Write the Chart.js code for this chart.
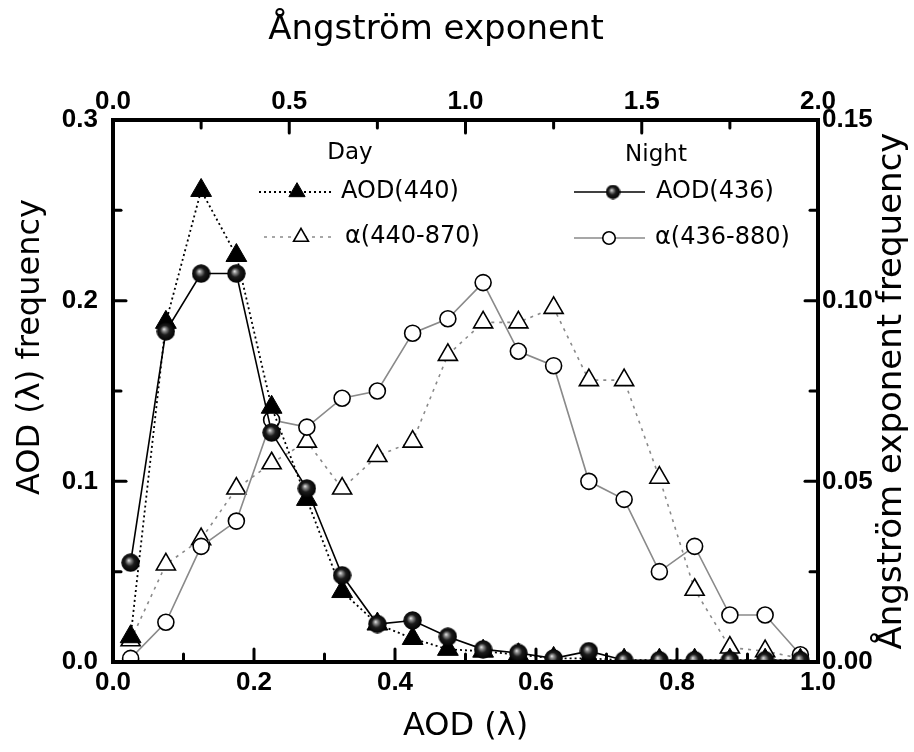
<!DOCTYPE html>
<html>
<head>
<meta charset="utf-8">
<script src="https://cdn.jsdelivr.net/npm/chart.js@4.4.1/dist/chart.umd.min.js"></script>
<style>
  html, body { margin: 0; padding: 0; background: #fff; }
</style>
</head>
<body>
<canvas id="chart" width="914" height="752"></canvas>
<script>
// bin centres (AOD on the bottom axis, Angstrom exponent on the top axis)
const aodBins = [0.025, 0.075, 0.125, 0.175, 0.225, 0.275, 0.325, 0.375, 0.425, 0.475,
                 0.525, 0.575, 0.625, 0.675, 0.725, 0.775, 0.825, 0.875, 0.925, 0.975]
const alphaBins = [0.05, 0.15, 0.25, 0.35, 0.45, 0.55, 0.65, 0.75, 0.85, 0.95,
                   1.05, 1.15, 1.25, 1.35, 1.45, 1.55, 1.65, 1.75, 1.85, 1.95]

// frequencies
const aodDay440 = [0.014, 0.188, 0.261, 0.225, 0.141, 0.090, 0.039, 0.021, 0.013, 0.007,
                   0.006, 0.004, 0.002, 0.002, 0.001, 0.001, 0.001, 0.001, 0.001, 0.001]
const aodNight436 = [0.055, 0.183, 0.215, 0.215, 0.127, 0.096, 0.048, 0.021, 0.023, 0.014,
                     0.007, 0.005, 0.002, 0.006, 0.001, 0.001, 0.001, 0.001, 0.001, 0.001]
const alphaDay = [0.006, 0.027, 0.034, 0.048, 0.055, 0.061, 0.048, 0.057, 0.061, 0.085,
                  0.094, 0.094, 0.098, 0.078, 0.078, 0.051, 0.020, 0.004, 0.003, 0.001]
const alphaNight = [0.001, 0.011, 0.032, 0.039, 0.067, 0.065, 0.073, 0.075, 0.091, 0.095,
                    0.105, 0.086, 0.082, 0.050, 0.045, 0.025, 0.032, 0.013, 0.013, 0.002]

const seriesLabels = ['AOD(440)', 'α(440-870)', 'AOD(436)', 'α(436-880)']

const tickFont = { family: 'Liberation Sans', size: 26, weight: 'bold' }
const titleFamily = 'DejaVu Sans'

function toPoints(xs, ys) {
  return xs.map((x, i) => ({ x: x, y: ys[i] }))
}

function isMultiple(v, step) {
  const r = v / step
  return Math.abs(r - Math.round(r)) < 1e-6
}

function makeSphere(d) {
  const c = document.createElement('canvas')
  c.width = d
  c.height = d
  const g = c.getContext('2d')
  const r = d / 2
  const grad = g.createRadialGradient(r * 0.8, r * 0.75, 0, r, r, r)
  grad.addColorStop(0, '#eeeeee')
  grad.addColorStop(0.2, '#8c8c8c')
  grad.addColorStop(0.5, '#1c1c1c')
  grad.addColorStop(1, '#000')
  g.fillStyle = grad
  g.beginPath()
  g.arc(r, r, r - 0.3, 0, Math.PI * 2)
  g.fill()
  return c
}

const sphere = makeSphere(19)
const sphereSmall = makeSphere(15)

// inward ticks + thick frame
const axisFrame = {
  id: 'axisFrame',
  afterDatasetsDraw(chart) {
    const { ctx, chartArea: a, scales } = chart
    ctx.save()
    ctx.strokeStyle = '#000'
    ctx.lineWidth = 3
    ctx.lineCap = 'round'
    const seg = (x1, y1, x2, y2) => {
      ctx.beginPath()
      ctx.moveTo(x1, y1)
      ctx.lineTo(x2, y2)
      ctx.stroke()
    }
    const len = (t) => (t.label !== '' ? 13 : 8)
    scales.x.ticks.forEach(t => {
      const p = scales.x.getPixelForValue(t.value)
      seg(p, a.bottom, p, a.bottom - len(t))
    })
    scales.x2.ticks.forEach(t => {
      const p = scales.x2.getPixelForValue(t.value)
      seg(p, a.top, p, a.top + len(t))
    })
    scales.y.ticks.forEach(t => {
      const p = scales.y.getPixelForValue(t.value)
      seg(a.left, p, a.left + len(t), p)
    })
    scales.y2.ticks.forEach(t => {
      const p = scales.y2.getPixelForValue(t.value)
      seg(a.right, p, a.right - len(t), p)
    })
    ctx.lineWidth = 4
    ctx.lineCap = 'butt'
    ctx.strokeRect(a.left, a.top, a.right - a.left, a.bottom - a.top)
    ctx.restore()
  },
}

function drawRotated(ctx, text, x, y) {
  ctx.save()
  ctx.translate(x, y)
  ctx.rotate(-Math.PI / 2)
  ctx.fillText(text, 0, 0)
  ctx.restore()
}

// axis titles, two-column legend (Day / Night)
const annotations = {
  id: 'annotations',
  afterDraw(chart) {
    const { ctx, chartArea: a } = chart
    ctx.save()
    ctx.fillStyle = '#000'
    ctx.textBaseline = 'middle'
    ctx.textAlign = 'center'

    // axis titles
    ctx.font = '32px ' + titleFamily
    ctx.fillText('AOD (λ)', (a.left + a.right) / 2, a.bottom + 65)
    drawRotated(ctx, 'AOD (λ) frequency', 31, a.top + 227)
    ctx.font = '34px ' + titleFamily
    ctx.fillText('Ångström exponent', a.left + 323, 30)
    drawRotated(ctx, 'Ångström exponent frequency', chart.width - 22, (a.top + a.bottom) / 2)

    // legend headers
    ctx.font = '23px ' + titleFamily
    ctx.fillText('Day', a.left + 237, a.top + 33)
    ctx.fillText('Night', a.left + 543, a.top + 35)

    const entries = [
      { ds: 0, x0: 146, x1: 218, mx: 184, tx: 228, y: 72 },
      { ds: 1, x0: 151, x1: 218, mx: 188, tx: 232, y: 117 },
      { ds: 2, x0: 461, x1: 532, mx: 500, tx: 543, y: 72 },
      { ds: 3, x0: 461, x1: 532, mx: 496, tx: 542, y: 118 },
    ]
    ctx.textAlign = 'left'
    ctx.font = '24px ' + titleFamily
    entries.forEach(e => {
      const d = chart.data.datasets[e.ds]
      const y = a.top + e.y
      ctx.save()
      ctx.strokeStyle = d.borderColor
      ctx.lineWidth = d.borderWidth
      ctx.setLineDash(d.borderDash || [])
      ctx.beginPath()
      ctx.moveTo(a.left + e.x0, y)
      ctx.lineTo(a.left + e.x1, y)
      ctx.stroke()
      ctx.restore()
      ctx.save()
      ctx.fillStyle = d.pointBackgroundColor
      ctx.strokeStyle = d.pointBorderColor
      ctx.lineWidth = d.pointBorderWidth
      const style = d.pointStyle === sphere ? sphereSmall : d.pointStyle
      Chart.helpers.drawPoint(ctx, {
        pointStyle: style,
        radius: d.pointRadius * 0.78,
        rotation: 0,
        borderWidth: d.pointBorderWidth,
      }, a.left + e.mx, y)
      ctx.restore()
      ctx.fillText(seriesLabels[e.ds], a.left + e.tx, y)
    })
    ctx.restore()
  },
}

function scaleBase(extra) {
  return Object.assign({
    type: 'linear',
    grid: { display: false, drawTicks: false, tickLength: 0 },
    border: { display: false },
  }, extra)
}

new Chart(document.getElementById('chart'), {
  type: 'line',
  data: {
    datasets: [
      {
        label: seriesLabels[0],
        data: toPoints(aodBins, aodDay440),
        xAxisID: 'x',
        yAxisID: 'y',
        borderColor: '#000',
        borderWidth: 1.8,
        borderDash: [2, 3],
        pointStyle: 'triangle',
        pointRadius: 12,
        pointBackgroundColor: '#000',
        pointBorderColor: '#000',
        pointBorderWidth: 1,
        order: 1,
      },
      {
        label: seriesLabels[1],
        data: toPoints(alphaBins, alphaDay),
        xAxisID: 'x2',
        yAxisID: 'y2',
        borderColor: '#8a8a8a',
        borderWidth: 1.6,
        borderDash: [3, 5],
        pointStyle: 'triangle',
        pointRadius: 11,
        pointBackgroundColor: '#fff',
        pointBorderColor: '#000',
        pointBorderWidth: 1.6,
        order: 3,
      },
      {
        label: seriesLabels[2],
        data: toPoints(aodBins, aodNight436),
        xAxisID: 'x',
        yAxisID: 'y',
        borderColor: '#000',
        borderWidth: 1.6,
        pointStyle: sphere,
        pointRadius: 9,
        pointBackgroundColor: '#000',
        pointBorderColor: '#000',
        pointBorderWidth: 1,
        order: 0,
      },
      {
        label: seriesLabels[3],
        data: toPoints(alphaBins, alphaNight),
        xAxisID: 'x2',
        yAxisID: 'y2',
        borderColor: '#8a8a8a',
        borderWidth: 1.6,
        pointStyle: 'circle',
        pointRadius: 8,
        pointBackgroundColor: '#fff',
        pointBorderColor: '#000',
        pointBorderWidth: 1.6,
        order: 2,
      },
    ],
  },
  options: {
    responsive: false,
    animation: false,
    layout: { padding: 0 },
    elements: { line: { tension: 0 } },
    plugins: {
      legend: { display: false },
      tooltip: { enabled: false },
    },
    scales: {
      x: scaleBase({
        position: 'bottom',
        min: 0,
        max: 1,
        afterFit: (s) => { s.height = 90 },
        ticks: {
          stepSize: 0.1, autoSkip: false, maxRotation: 0, padding: 5,
          font: tickFont, color: '#000',
          callback: (v) => (isMultiple(v, 0.2) ? v.toFixed(1) : ''),
        },
      }),
      x2: scaleBase({
        position: 'top',
        min: 0,
        max: 2,
        afterFit: (s) => { s.height = 120 },
        ticks: {
          stepSize: 0.25, autoSkip: false, maxRotation: 0, padding: 3,
          font: tickFont, color: '#000',
          callback: (v) => (isMultiple(v, 0.5) ? v.toFixed(1) : ''),
        },
      }),
      y: scaleBase({
        position: 'left',
        min: 0,
        max: 0.3,
        afterFit: (s) => { s.width = 113 },
        ticks: {
          stepSize: 0.05, autoSkip: false, padding: 15,
          font: tickFont, color: '#000',
          callback: (v) => (isMultiple(v, 0.1) ? v.toFixed(1) : ''),
        },
      }),
      y2: scaleBase({
        position: 'right',
        min: 0,
        max: 0.15,
        afterFit: (s) => { s.width = 96 },
        ticks: {
          stepSize: 0.025, autoSkip: false, padding: 4,
          font: tickFont, color: '#000',
          callback: (v) => (isMultiple(v, 0.05) ? v.toFixed(2) : ''),
        },
      }),
    },
  },
  plugins: [axisFrame, annotations],
})
</script>
</body>
</html>
